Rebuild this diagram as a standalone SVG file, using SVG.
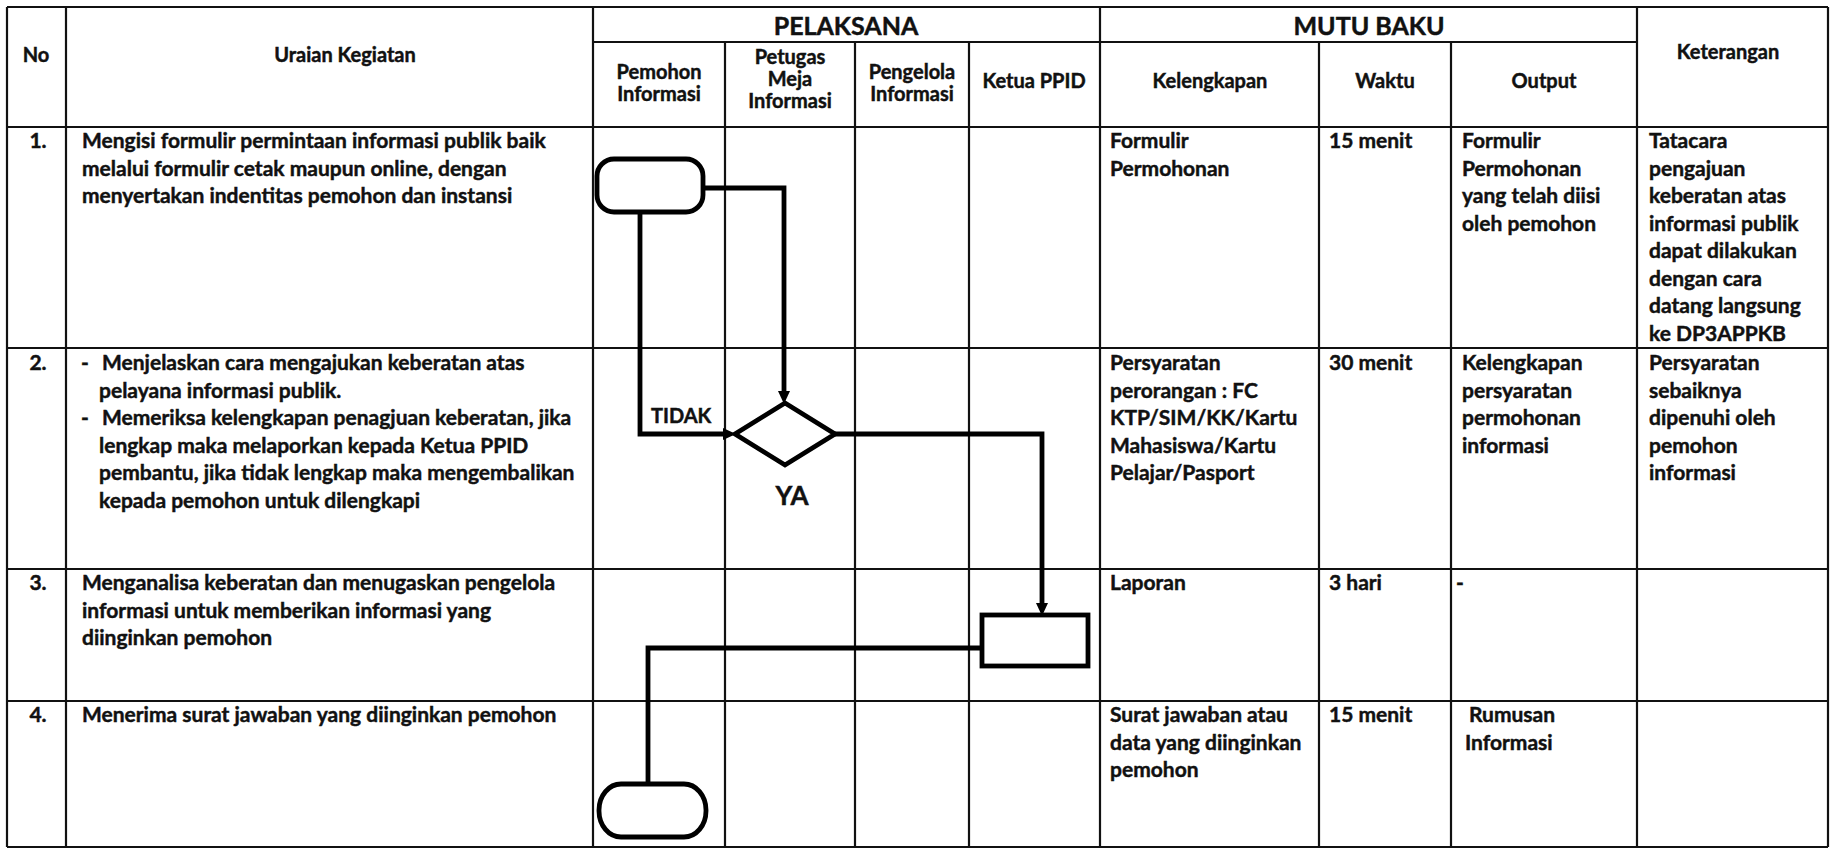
<svg xmlns="http://www.w3.org/2000/svg" width="1831" height="849" viewBox="0 0 1831 849">
<style>
.t{font-family:Lato,"Liberation Sans",sans-serif;font-weight:700;font-size:21px;fill:#111;stroke:#111;stroke-width:0.45px}
.h{font-size:20px}
.c{text-anchor:middle}
.big{font-size:25px}
.ya{font-size:26px}
.lbl{font-size:20px}
.grid line{stroke:#111;stroke-width:2.2}
.flow{stroke:#000;stroke-width:4.8;fill:none;stroke-linejoin:miter}
.shape{fill:#fff;stroke:#000;stroke-width:4.8}
</style>
<defs>
<marker id="arr" markerUnits="userSpaceOnUse" markerWidth="13" markerHeight="12" refX="6" refY="6" orient="auto">
<path d="M0,0 L13,6 L0,12 z" fill="#000"/>
</marker>
</defs>
<rect width="1831" height="849" fill="#fff"/>
<g id="grid" class="grid">
<line x1="7" y1="7" x2="1828" y2="7"/>
<line x1="7" y1="847" x2="1828" y2="847"/>
<line x1="7" y1="7" x2="7" y2="847"/>
<line x1="1828" y1="7" x2="1828" y2="847"/>
<line x1="593" y1="42" x2="1637" y2="42"/>
<line x1="7" y1="127" x2="1828" y2="127"/>
<line x1="7" y1="348" x2="1828" y2="348"/>
<line x1="7" y1="569" x2="1828" y2="569"/>
<line x1="7" y1="701" x2="1828" y2="701"/>
<line x1="66" y1="7" x2="66" y2="847"/>
<line x1="593" y1="7" x2="593" y2="847"/>
<line x1="725" y1="42" x2="725" y2="847"/>
<line x1="855" y1="42" x2="855" y2="847"/>
<line x1="969" y1="42" x2="969" y2="847"/>
<line x1="1100" y1="7" x2="1100" y2="847"/>
<line x1="1319" y1="42" x2="1319" y2="847"/>
<line x1="1451" y1="42" x2="1451" y2="847"/>
<line x1="1637" y1="7" x2="1637" y2="847"/>
</g>
<g id="header">
<text class="t h c" x="36" y="62">No</text>
<text class="t h c" x="345" y="62">Uraian Kegiatan</text>
<text class="t c big" x="846" y="35">PELAKSANA</text>
<text class="t c big" x="1369" y="35">MUTU BAKU</text>
<text class="t h c" x="1728" y="59">Keterangan</text>
<text class="t h c" x="659" y="79">Pemohon<tspan x="659" y="101">Informasi</tspan></text>
<text class="t h c" x="790" y="64">Petugas<tspan x="790" y="86">Meja</tspan><tspan x="790" y="108">Informasi</tspan></text>
<text class="t h c" x="912" y="79">Pengelola<tspan x="912" y="101">Informasi</tspan></text>
<text class="t h c" x="1034" y="88">Ketua PPID</text>
<text class="t h c" x="1210" y="88">Kelengkapan</text>
<text class="t h c" x="1385" y="88">Waktu</text>
<text class="t h c" x="1544" y="88">Output</text>
</g>
<g id="row1">
<text class="t c" x="38" y="148">1.</text>
<text class="t" x="82" y="148">Mengisi formulir permintaan informasi publik baik<tspan x="82" y="175.5">melalui formulir cetak maupun online, dengan</tspan><tspan x="82" y="203">menyertakan indentitas pemohon dan instansi</tspan></text>
<text class="t" x="1110" y="148">Formulir<tspan x="1110" y="175.5">Permohonan</tspan></text>
<text class="t" x="1329" y="148">15 menit</text>
<text class="t" x="1462" y="148">Formulir<tspan x="1462" y="175.5">Permohonan</tspan><tspan x="1462" y="203">yang telah diisi</tspan><tspan x="1462" y="230.5">oleh pemohon</tspan></text>
<text class="t" x="1649" y="148">Tatacara<tspan x="1649" y="175.5">pengajuan</tspan><tspan x="1649" y="203">keberatan atas</tspan><tspan x="1649" y="230.5">informasi publik</tspan><tspan x="1649" y="258">dapat dilakukan</tspan><tspan x="1649" y="285.5">dengan cara</tspan><tspan x="1649" y="313">datang langsung</tspan><tspan x="1649" y="340.5">ke DP3APPKB</tspan></text>
</g>
<g id="row2">
<text class="t c" x="38" y="370">2.</text>
<text class="t" x="81" y="370">-</text>
<text class="t" x="102" y="370">Menjelaskan cara mengajukan keberatan atas<tspan x="99" y="397.5">pelayana informasi publik.</tspan></text>
<text class="t" x="81" y="425">-</text>
<text class="t" x="102" y="425">Memeriksa kelengkapan penagjuan keberatan, jika<tspan x="99" y="452.5">lengkap maka melaporkan kepada Ketua PPID</tspan><tspan x="99" y="480">pembantu, jika tidak lengkap maka mengembalikan</tspan><tspan x="99" y="507.5">kepada pemohon untuk dilengkapi</tspan></text>
<text class="t" x="1110" y="370">Persyaratan<tspan x="1110" y="397.5">perorangan : FC</tspan><tspan x="1110" y="425">KTP/SIM/KK/Kartu</tspan><tspan x="1110" y="452.5">Mahasiswa/Kartu</tspan><tspan x="1110" y="480">Pelajar/Pasport</tspan></text>
<text class="t" x="1329" y="370">30 menit</text>
<text class="t" x="1462" y="370">Kelengkapan<tspan x="1462" y="397.5">persyaratan</tspan><tspan x="1462" y="425">permohonan</tspan><tspan x="1462" y="452.5">informasi</tspan></text>
<text class="t" x="1649" y="370">Persyaratan<tspan x="1649" y="397.5">sebaiknya</tspan><tspan x="1649" y="425">dipenuhi oleh</tspan><tspan x="1649" y="452.5">pemohon</tspan><tspan x="1649" y="480">informasi</tspan></text>
</g>
<g id="row3">
<text class="t c" x="38" y="590">3.</text>
<text class="t" x="82" y="590">Menganalisa keberatan dan menugaskan pengelola<tspan x="82" y="617.5">informasi untuk memberikan informasi yang</tspan><tspan x="82" y="645">diinginkan pemohon</tspan></text>
<text class="t" x="1110" y="590">Laporan</text>
<text class="t" x="1329" y="590">3 hari</text>
<text class="t" x="1456" y="590">-</text>
</g>
<g id="row4">
<text class="t c" x="38" y="722">4.</text>
<text class="t" x="82" y="722">Menerima surat jawaban yang diinginkan pemohon</text>
<text class="t" x="1110" y="722">Surat jawaban atau<tspan x="1110" y="749.5">data yang diinginkan</tspan><tspan x="1110" y="777">pemohon</tspan></text>
<text class="t" x="1329" y="722">15 menit</text>
<text class="t" x="1469" y="722">Rumusan<tspan x="1465" y="749.5">Informasi</tspan></text>
</g>
<g id="connectors">
<path class="flow" d="M703,188 H784 V397" marker-end="url(#arr)"/>
<path class="flow" d="M640,212 V434 H729" marker-end="url(#arr)"/>
<path class="flow" d="M834,434 H1042 V609" marker-end="url(#arr)"/>
<path class="flow" d="M982,648 H648 V784"/>
</g>
<g id="start">
<rect class="shape" x="597" y="159" width="106" height="53" rx="17" ry="17"/>
</g>
<g id="decision">
<polygon class="shape" points="785,403 835,434 785,465 735,434"/>
<text class="t lbl" x="651" y="423">TIDAK</text>
<text class="t c ya" x="792" y="505">YA</text>
</g>
<g id="process">
<rect class="shape" x="982" y="615" width="106" height="51"/>
</g>
<g id="end">
<rect class="shape" x="599" y="784" width="107" height="53" rx="22" ry="26"/>
</g>
</svg>
